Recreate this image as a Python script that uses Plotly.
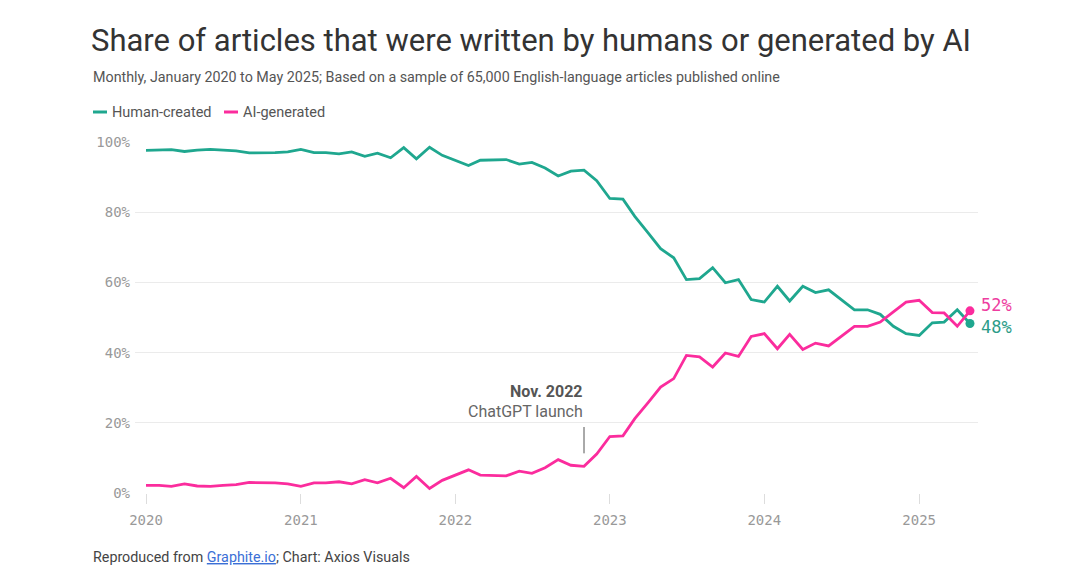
import pandas as pd
import plotly.graph_objects as go

# Monthly shares, Jan 2020 - May 2025
months = pd.date_range("2020-01-01", periods=65, freq="MS")

human_created = [
    97.6, 97.6, 97.8, 97.3, 97.7, 97.9, 97.6, 97.5, 96.9, 96.9, 97.0, 97.2,
    97.9, 97.0, 97.0, 96.6, 97.2, 95.9, 96.8, 95.5, 98.4, 95.2, 98.5, 96.2,
    94.8, 93.3, 94.8, 95.0, 95.0, 93.7, 94.2, 92.6, 90.3, 91.7, 92.0, 89.0,
    83.9, 83.7, 78.8, 74.2, 69.6, 67.0, 60.8, 61.1, 64.2, 59.9, 60.8, 55.1,
    54.4, 58.9, 54.7, 58.9, 57.1, 57.9, 55.1, 52.2, 52.2, 50.9, 47.5, 45.4,
    44.9, 48.5, 48.7, 52.2, 48.3,
]

ai_generated = [
    2.2, 2.2, 1.9, 2.6, 2.0, 1.9, 2.2, 2.4, 3.0, 3.0, 2.9, 2.6,
    1.9, 2.9, 2.9, 3.2, 2.6, 3.8, 2.9, 4.2, 1.5, 4.7, 1.3, 3.6,
    5.0, 6.6, 5.1, 4.9, 4.9, 6.2, 5.6, 7.2, 9.5, 7.9, 7.6, 11.1,
    16.1, 16.3, 21.2, 25.7, 30.2, 32.6, 39.2, 38.8, 35.9, 39.9, 38.9, 44.6,
    45.4, 41.1, 45.2, 40.9, 42.7, 41.9, 44.6, 47.5, 47.5, 48.7, 51.6, 54.4,
    54.9, 51.4, 51.3, 47.5, 51.9,
]

y_ticks = [0, 20, 40, 60, 80, 100]
y_tick_labels = ["0%", "20%", "40%", "60%", "80%", "100%"]
x_ticks = ["2020-01-01", "2021-01-01", "2022-01-01", "2023-01-01", "2024-01-01", "2025-01-01"]
x_tick_labels = ["2020", "2021", "2022", "2023", "2024", "2025"]

launch_date = "2022-11-01"

TEAL = "#1fa78f"
PINK = "#fb2c9d"
MONO = "DejaVu Sans Mono, Liberation Mono, monospace"
SANS = "Roboto, Inter, Noto Sans, sans-serif"

fig = go.Figure()

fig.add_trace(go.Scatter(x=months, y=human_created, mode="lines", name="Human-created",
                         line=dict(color=TEAL, width=2.8), hoverinfo="x+y"))
fig.add_trace(go.Scatter(x=months, y=ai_generated, mode="lines", name="AI-generated",
                         line=dict(color=PINK, width=2.8), hoverinfo="x+y"))

# end-point dots
fig.add_trace(go.Scatter(x=[months[-1]], y=[human_created[-1]], mode="markers",
                         marker=dict(color=TEAL, size=9), hoverinfo="skip"))
fig.add_trace(go.Scatter(x=[months[-1]], y=[ai_generated[-1]], mode="markers",
                         marker=dict(color=PINK, size=9), hoverinfo="skip"))

# end labels
fig.add_annotation(x=months[-1], y=ai_generated[-1], text=f"{round(ai_generated[-1])}%",
                   showarrow=False, xanchor="left", yanchor="middle", xshift=9, yshift=6,
                   font=dict(family=MONO, size=17, color="#ee3d9f"))
fig.add_annotation(x=months[-1], y=human_created[-1], text=f"{round(human_created[-1])}%",
                   showarrow=False, xanchor="left", yanchor="middle", xshift=9, yshift=-4,
                   font=dict(family=MONO, size=17, color="#2c9c88"))

# ChatGPT launch marker
fig.add_annotation(x=launch_date, y=29, text="<b>Nov. 2022</b>", showarrow=False,
                   xanchor="right", yanchor="middle", xshift=1,
                   font=dict(family=SANS, size=16, color="#555555"))
fig.add_annotation(x=launch_date, y=23.3, text="ChatGPT launch", showarrow=False,
                   xanchor="right", yanchor="middle", xshift=1,
                   font=dict(family=SANS, size=16, color="#666666"))
fig.add_shape(type="line", x0=launch_date, x1=launch_date, y0=11.3, y1=18.8,
              xref="x", yref="y", line=dict(color="#555555", width=1))

# page pixel -> paper coords (plot area spans x 135..978, y 142..493 on the page)
def px_x(px):
    return (px - 135) / 843

def px_y(py):
    return (493 - py) / 351

# custom legend (short swatches)
for x0, x1, color in [(93, 107, TEAL), (224, 238, PINK)]:
    fig.add_shape(type="line", xref="paper", yref="paper", x0=px_x(x0), x1=px_x(x1),
                  y0=px_y(112), y1=px_y(112), line=dict(color=color, width=3))
fig.add_annotation(xref="paper", yref="paper", x=px_x(110), y=px_y(112), text="Human-created",
                   showarrow=False, xanchor="left", yanchor="middle",
                   font=dict(family=SANS, size=14.5, color="#555555"))
fig.add_annotation(xref="paper", yref="paper", x=px_x(241), y=px_y(112), text="AI-generated",
                   showarrow=False, xanchor="left", yanchor="middle",
                   font=dict(family=SANS, size=14.5, color="#555555"))

# subtitle and footer
fig.add_annotation(xref="paper", yref="paper", x=px_x(91), y=px_y(77),
                   text="Monthly, January 2020 to May 2025; Based on a sample of 65,000 English-language articles published online",
                   showarrow=False, xanchor="left", yanchor="middle",
                   font=dict(family=SANS, size=14.3, color="#555555"))
fig.add_annotation(xref="paper", yref="paper", x=px_x(91), y=px_y(557),
                   text="Reproduced from <a href='https://graphite.io' style='color:#3b6fd6'><u>Graphite.io</u></a>; Chart: Axios Visuals",
                   showarrow=False, xanchor="left", yanchor="middle",
                   font=dict(family=SANS, size=14.3, color="#444444"))

# the page adds an 8px body margin, so the figure is 8px smaller than the window
fig.update_layout(
    title=dict(text="Share of articles that were written by humans or generated by AI",
               xref="container", yref="container", x=(91 - 8) / 1072, y=1 - (40 - 8) / 572,
               xanchor="left", yanchor="middle",
               font=dict(family=SANS, size=31, color="#333333")),
    width=1072, height=572,
    margin=dict(l=127, r=102, t=134, b=87),
    plot_bgcolor="white", paper_bgcolor="white",
    showlegend=False,
)

fig.update_xaxes(
    type="date", range=["2019-12-06", "2025-05-20"],
    tickvals=x_ticks, ticktext=x_tick_labels,
    showgrid=False, zeroline=False, showline=False,
    ticks="outside", ticklen=10, tickcolor="#dddddd", ticklabelstandoff=4,
    tickfont=dict(family=MONO, size=14, color="#999999"),
)
fig.update_yaxes(
    range=[0, 100], tickvals=y_ticks, ticktext=y_tick_labels,
    showgrid=True, gridcolor="#ebebeb", gridwidth=1, zeroline=False,
    ticks="", ticklabelstandoff=4,
    tickfont=dict(family=MONO, size=14, color="#999999"),
)

fig.write_html("out.html")
